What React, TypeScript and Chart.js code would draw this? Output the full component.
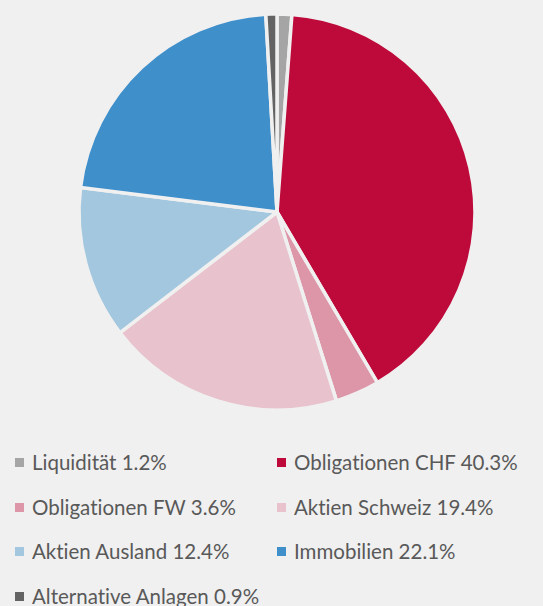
import React, { useEffect, useRef } from "react";
import { Chart, registerables } from "chart.js";

Chart.register(...registerables);

const categories = [
  "Liquidität",
  "Obligationen CHF",
  "Obligationen FW",
  "Aktien Schweiz",
  "Aktien Ausland",
  "Immobilien",
  "Alternative Anlagen",
];
const shares = [1.2, 40.3, 3.6, 19.4, 12.4, 22.1, 0.9];
const colors = ["#a5a5a5", "#be0a3a", "#dd95a8", "#e8c3cd", "#a2c7df", "#3f8fcb", "#636363"];

const BG = "#f0f0f0";

export default function App() {
  const canvasRef = useRef<HTMLCanvasElement | null>(null);

  useEffect(() => {
    document.body.style.margin = "0";
    document.body.style.background = BG;
    const ctx = canvasRef.current!.getContext("2d")!;
    const chart = new Chart(ctx, {
      type: "pie",
      data: {
        labels: categories,
        datasets: [
          {
            data: shares,
            backgroundColor: colors,
            borderColor: BG,
            borderWidth: 3.5,
          },
        ],
      },
      options: {
        responsive: false,
        animation: false,
        radius: 198,
        layout: { padding: { left: 11, right: 0, top: 0, bottom: 0 } },
        plugins: {
          legend: { display: false },
          tooltip: { enabled: false },
        },
      },
    });
    return () => chart.destroy();
  }, []);

  const rowY = [462, 507, 551, 596];
  const colX = [15, 277];

  return (
    <div style={{ position: "relative", width: 543, height: 606, background: BG, overflow: "hidden" }}>
      <canvas ref={canvasRef} width={543} height={424} style={{ position: "absolute", left: 0, top: 0 }} />
      {categories.map((c, i) => {
        const row = Math.floor(i / 2);
        const col = i % 2;
        return (
          <div
            key={c}
            style={{
              position: "absolute",
              left: colX[col],
              top: rowY[row] - 16,
              height: 32,
              display: "flex",
              alignItems: "center",
              whiteSpace: "nowrap",
              fontFamily: "Lato, 'Open Sans', sans-serif",
              fontSize: 20.5,
              fontVariantLigatures: "none",
              color: "#595959",
            }}
          >
            <span
              style={{
                display: "inline-block",
                width: 9,
                height: 9,
                background: colors[i],
                marginRight: 8,
              }}
            />
            <span>{`${c} ${shares[i].toFixed(1)}%`}</span>
          </div>
        );
      })}
    </div>
  );
}
